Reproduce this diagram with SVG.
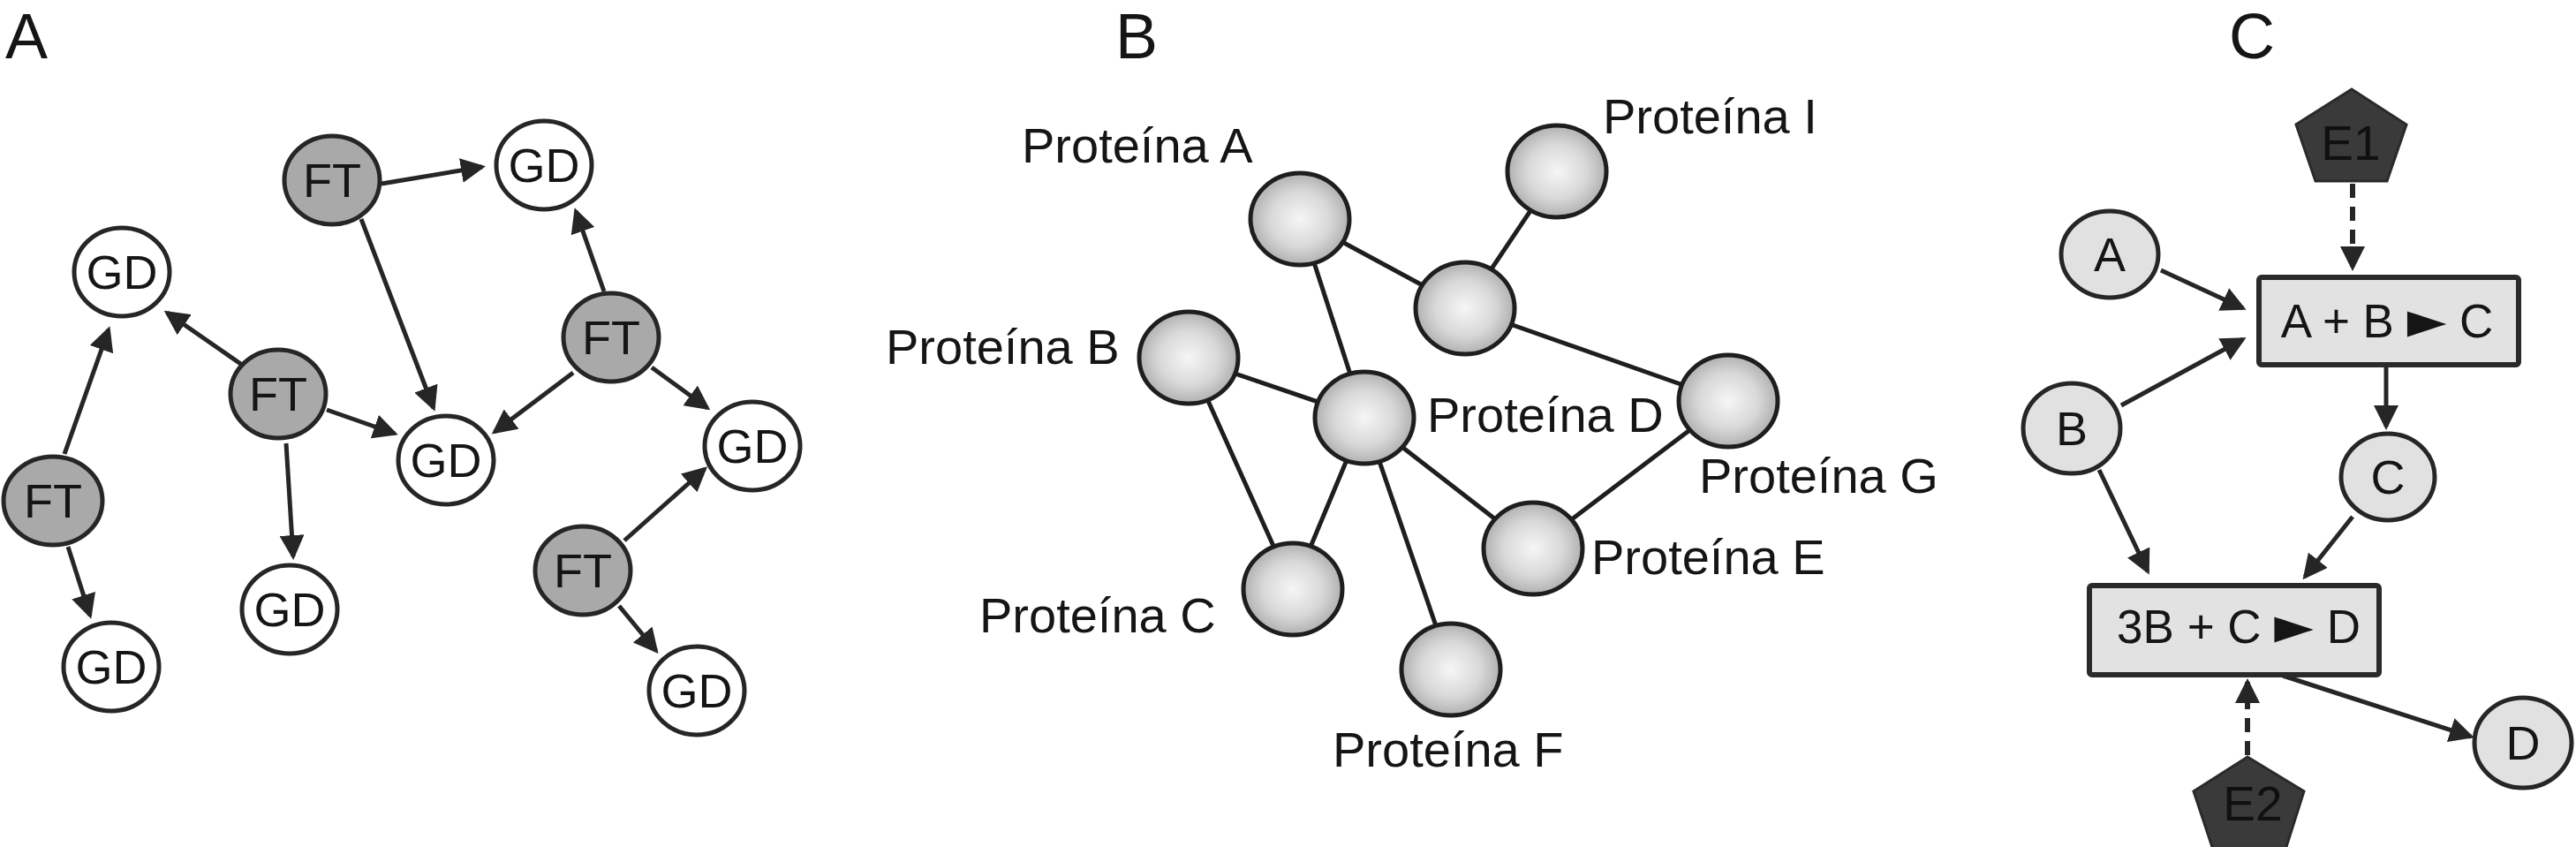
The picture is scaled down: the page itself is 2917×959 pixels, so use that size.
<svg xmlns="http://www.w3.org/2000/svg" width="2917" height="959" viewBox="0 0 2917 959">
<style>
text{font-family:"Liberation Sans",Arial,sans-serif;fill:#151515}
.panel{font-size:72px}
.ft{fill:#a9a9a9;stroke:#262626;stroke-width:5}
.gd{fill:#ffffff;stroke:#262626;stroke-width:5}
.lbl{font-size:54px;text-anchor:middle}
.prot{fill:url(#pg);stroke:#1e1e1e;stroke-width:5}
.plbl{font-size:56px}
.cn{fill:#e1e1e1;stroke:#262626;stroke-width:5}
.box{fill:#e2e2e2;stroke:#2a2a2a;stroke-width:6}
.enz{fill:#3a3a3a;stroke:#2a2a2a;stroke-width:3}
.etx{font-size:55px;text-anchor:middle;fill:#101010}
.tri{font-family:"DejaVu Sans",sans-serif;font-size:58px}
.arr{stroke:#262626;stroke-width:5;fill:none;marker-end:url(#ah)}
.dash{stroke:#262626;stroke-width:6;fill:none;stroke-dasharray:16 10;marker-end:url(#ah)}
.edge{stroke:#1e1e1e;stroke-width:5;fill:none}
</style>
<defs>
<marker id="ah" markerUnits="userSpaceOnUse" markerWidth="28" markerHeight="28" viewBox="0 0 28 28" refX="24" refY="14" orient="auto">
<path d="M0,0 L28,14 L0,28 z" fill="#262626"/>
</marker>
<radialGradient id="pg" cx="50%" cy="50%" r="55%">
<stop offset="0" stop-color="#f6f6f6"/>
<stop offset="0.55" stop-color="#d8d8d8"/>
<stop offset="1" stop-color="#a6a6a6"/>
</radialGradient>
</defs>
<rect width="2917" height="959" fill="#ffffff"/>

<text class="panel" x="6" y="66">A</text>
<text class="panel" x="1263" y="66">B</text>
<text class="panel" x="2524" y="66">C</text>

<!-- Panel A connectors -->
<g id="connectors-a">
<path class="arr" d="M432,208 L546,189"/>
<path class="arr" d="M409,248 L491,462"/>
<path class="arr" d="M684,330 L652,239"/>
<path class="arr" d="M649,422 L560,489"/>
<path class="arr" d="M738,416 L801,462"/>
<path class="arr" d="M274,413 L189,354"/>
<path class="arr" d="M370,464 L447,491"/>
<path class="arr" d="M324,502 L332,630"/>
<path class="arr" d="M73,514 L123,373"/>
<path class="arr" d="M77,619 L102,697"/>
<path class="arr" d="M707,612 L798,531"/>
<path class="arr" d="M701,686 L743,737"/>
</g>

<!-- Panel A nodes -->
<g id="a-ft1"><ellipse class="ft" cx="376" cy="204" rx="54" ry="50"/><text class="lbl" x="376" y="223">FT</text></g>
<g id="a-ft2"><ellipse class="ft" cx="315" cy="446" rx="54" ry="50"/><text class="lbl" x="315" y="465">FT</text></g>
<g id="a-ft3"><ellipse class="ft" cx="692" cy="382" rx="54" ry="50"/><text class="lbl" x="692" y="401">FT</text></g>
<g id="a-ft4"><ellipse class="ft" cx="60" cy="567" rx="56" ry="50"/><text class="lbl" x="60" y="586">FT</text></g>
<g id="a-ft5"><ellipse class="ft" cx="660" cy="646" rx="54" ry="50"/><text class="lbl" x="660" y="665">FT</text></g>
<g id="a-gd1"><ellipse class="gd" cx="616" cy="187" rx="54" ry="50"/><text class="lbl" x="616" y="206">GD</text></g>
<g id="a-gd2"><ellipse class="gd" cx="138" cy="308" rx="54" ry="50"/><text class="lbl" x="138" y="327">GD</text></g>
<g id="a-gd3"><ellipse class="gd" cx="505" cy="521" rx="54" ry="50"/><text class="lbl" x="505" y="540">GD</text></g>
<g id="a-gd4"><ellipse class="gd" cx="852" cy="505" rx="54" ry="50"/><text class="lbl" x="852" y="524">GD</text></g>
<g id="a-gd5"><ellipse class="gd" cx="328" cy="690" rx="54" ry="50"/><text class="lbl" x="328" y="709">GD</text></g>
<g id="a-gd6"><ellipse class="gd" cx="126" cy="755" rx="54" ry="50"/><text class="lbl" x="126" y="774">GD</text></g>
<g id="a-gd7"><ellipse class="gd" cx="789" cy="782" rx="54" ry="50"/><text class="lbl" x="789" y="801">GD</text></g>

<!-- Panel B connectors -->
<g id="connectors-b">
<path class="edge" d="M1472,248 L1659,349"/>
<path class="edge" d="M1472,248 L1545,473"/>
<path class="edge" d="M1763,194 L1659,349"/>
<path class="edge" d="M1659,349 L1957,454"/>
<path class="edge" d="M1346,405 L1545,473"/>
<path class="edge" d="M1346,405 L1464,667"/>
<path class="edge" d="M1545,473 L1464,667"/>
<path class="edge" d="M1545,473 L1736,621"/>
<path class="edge" d="M1545,473 L1643,758"/>
<path class="edge" d="M1736,621 L1957,454"/>
</g>

<!-- Panel B nodes -->
<g id="b-a"><ellipse class="prot" cx="1472" cy="248" rx="56" ry="52"/><text class="plbl" x="1157" y="184">Proteína A</text></g>
<g id="b-i"><ellipse class="prot" cx="1763" cy="194" rx="56" ry="52"/><text class="plbl" x="1815" y="151">Proteína I</text></g>
<g id="b-x"><ellipse class="prot" cx="1659" cy="349" rx="56" ry="52"/></g>
<g id="b-b"><ellipse class="prot" cx="1346" cy="405" rx="56" ry="52"/><text class="plbl" x="1003" y="412">Proteína B</text></g>
<g id="b-d"><ellipse class="prot" cx="1545" cy="473" rx="56" ry="52"/><text class="plbl" x="1616" y="489">Proteína D</text></g>
<g id="b-g"><ellipse class="prot" cx="1957" cy="454" rx="56" ry="52"/><text class="plbl" x="1924" y="558">Proteína G</text></g>
<g id="b-e"><ellipse class="prot" cx="1736" cy="621" rx="56" ry="52"/><text class="plbl" x="1802" y="650">Proteína E</text></g>
<g id="b-c"><ellipse class="prot" cx="1464" cy="667" rx="56" ry="52"/><text class="plbl" x="1109" y="716">Proteína C</text></g>
<g id="b-f"><ellipse class="prot" cx="1643" cy="758" rx="56" ry="52"/><text class="plbl" x="1509" y="868">Proteína F</text></g>

<!-- Panel C connectors -->
<g id="connectors-c">
<path class="arr" d="M2447,306 L2540,349"/>
<path class="arr" d="M2402,459 L2540,384"/>
<path class="arr" d="M2702,414 L2702,483"/>
<path class="arr" d="M2377,532 L2432,647"/>
<path class="arr" d="M2664,585 L2610,653"/>
<path class="arr" d="M2585,765 L2798,834"/>
<path class="dash" d="M2664,208 L2664,303"/>
<path class="dash" d="M2545,855 L2545,772"/>
</g>

<!-- Panel C nodes -->
<g id="c-e1"><polygon class="enz" points="2663,101 2725,141 2703,205 2622,205 2600,141"/><text class="etx" x="2662" y="181">E1</text></g>
<g id="c-r1"><rect class="box" x="2558" y="314" width="294" height="99" rx="3"/><text x="2703" y="382" font-size="53" text-anchor="middle" xml:space="preserve">A + B <tspan class="tri">►</tspan> C</text></g>
<g id="c-a"><ellipse class="cn" cx="2389" cy="288" rx="55" ry="49"/><text class="lbl" x="2389" y="307" font-size="52">A</text></g>
<g id="c-b"><ellipse class="cn" cx="2346" cy="485" rx="55" ry="51"/><text class="lbl" x="2346" y="504" font-size="52">B</text></g>
<g id="c-c"><ellipse class="cn" cx="2704" cy="540" rx="53" ry="49"/><text class="lbl" x="2704" y="559" font-size="52">C</text></g>
<g id="c-r2"><rect class="box" x="2366" y="663" width="328" height="101" rx="3"/><text x="2535" y="728" font-size="53" text-anchor="middle" xml:space="preserve">3B + C <tspan class="tri">►</tspan> D</text></g>
<g id="c-d"><ellipse class="cn" cx="2857" cy="841" rx="55" ry="51"/><text class="lbl" x="2857" y="860" font-size="52">D</text></g>
<g id="c-e2"><polygon class="enz" points="2545,857 2609,896 2588,962 2506,962 2484,896"/><text class="etx" x="2551" y="929">E2</text></g>
</svg>
